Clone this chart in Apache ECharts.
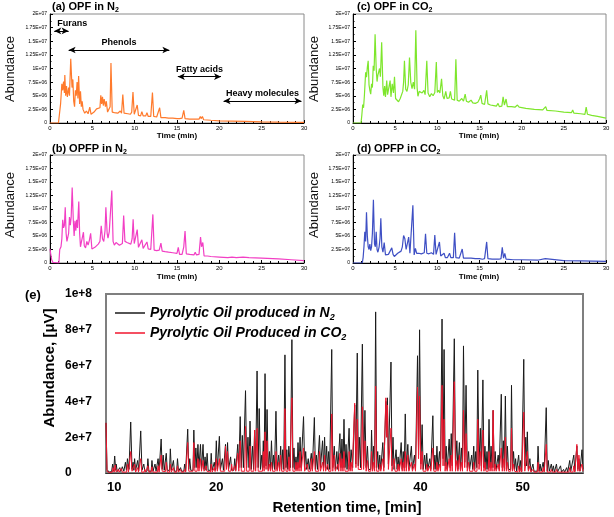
<!DOCTYPE html>
<html><head><meta charset="utf-8">
<script src="https://cdn.jsdelivr.net/npm/echarts@6/dist/echarts.min.js"></script>
<style>html,body{margin:0;padding:0;background:#fff}#c{width:614px;height:517px}</style>
</head><body><div id="c"></div>
<script>
// ---------- DATA (abundance values in units of 1e6) ----------
const topXTicks = [0, 5, 10, 15, 20, 25, 30];
const topYLabels = ['0','2.5E+06','5E+06','7.5E+06','1E+07','1.25E+07','1.5E+07','1.75E+07','2E+07'];
const eYLabels = ['0','2e+7','4e+7','6e+7','8e+7','1e+8'];
const eXTicks = [10, 20, 30, 40, 50];
const panelTitles = [['(a) OPF in N','2'],['(c) OPF in CO','2'],['(b) OPFP in N','2'],['(d) OPFP in CO','2']];
const seriesNamesE = ['Pyrolytic Oil produced in N2','Pyrolytic Oil Produced in CO2'];
const annotations = [['Furans',0.5,2.2,16.9],['Phenols',2.2,14.1,13.4],['Fatty acids',15.1,20.2,8.5],['Heavy molecules',20.5,29.7,4.05]];

const opfN2 = [[0,0],[1.0,0],[1.1,0.3],[1.25,3.5],[1.4,7.2],[1.5,6.0],[1.6,7.6],[1.7,5.5],[1.75,8.8],[1.85,5.0],[1.95,6.8],[2.05,4.8],[2.2,6.5],[2.3,5.0],[2.45,11.8],[2.6,6.5],[2.7,8.0],[2.8,4.0],[2.9,3.0],[3.0,6.0],[3.1,5.0],[3.2,7.5],[3.3,4.5],[3.38,8.6],[3.5,3.5],[3.6,5.8],[3.7,3.0],[3.8,4.0],[3.9,2.5],[4.0,2.8],[4.1,1.8],[4.3,2.2],[4.5,1.7],[4.7,2.9],[4.85,1.6],[5.0,1.3],[5.2,2.0],[5.5,2.6],[5.7,2.3],[5.9,2.8],[6.0,5.1],[6.1,3.5],[6.2,4.8],[6.3,3.2],[6.4,4.4],[6.55,3.0],[6.65,4.0],[6.8,2.0],[6.95,1.8],[7.1,3.0],[7.2,11.0],[7.35,2.0],[7.6,1.9],[8.0,1.8],[8.3,2.2],[8.45,1.8],[8.6,5.2],[8.75,1.8],[9.2,1.7],[9.5,1.6],[9.65,2.0],[9.8,5.7],[9.95,1.6],[10.15,1.5],[10.3,3.3],[10.45,1.4],[10.7,1.3],[10.85,2.1],[11.0,1.3],[11.3,1.3],[11.45,1.9],[11.6,1.2],[11.9,1.2],[12.1,5.6],[12.25,1.2],[12.6,1.1],[12.95,2.8],[13.1,1.0],[13.6,1.0],[14.0,0.9],[14.5,0.9],[15.0,0.8],[15.3,0.8],[15.6,0.9],[15.8,2.3],[15.95,0.8],[16.5,0.7],[17.0,0.7],[17.6,0.7],[17.75,1.2],[17.85,0.8],[18.0,1.2],[18.15,0.6],[19.0,0.5],[20.0,0.4],[21.5,0.35],[23.0,0.3],[25.0,0.2],[27.0,0.15],[30,0.1]];

const opfCO2 = [[0,0],[0.95,0],[1.05,1.5],[1.15,3.4],[1.25,2.8],[1.35,5.0],[1.5,9.3],[1.6,8.4],[1.7,10.2],[1.8,11.4],[1.9,7.0],[2.0,6.0],[2.1,5.3],[2.2,7.2],[2.3,6.5],[2.4,10.5],[2.5,9.6],[2.62,16.3],[2.75,10.0],[2.85,7.6],[2.95,8.8],[3.05,9.0],[3.15,10.0],[3.25,8.5],[3.4,14.8],[3.55,6.5],[3.65,5.0],[3.75,6.8],[3.85,4.8],[4.0,7.8],[4.1,5.2],[4.25,5.0],[4.4,7.8],[4.5,4.8],[4.65,7.2],[4.8,5.5],[4.92,8.5],[5.05,4.5],[5.2,4.3],[5.4,3.9],[5.6,4.5],[5.75,4.2],[5.9,5.8],[6.0,7.5],[6.1,11.4],[6.25,6.2],[6.4,5.8],[6.55,7.0],[6.7,12.0],[6.85,7.5],[7.0,6.3],[7.15,7.5],[7.3,6.2],[7.45,17.0],[7.6,6.5],[7.7,4.9],[7.85,5.8],[8.0,6.1],[8.2,5.5],[8.4,6.0],[8.55,5.2],[8.75,11.4],[8.9,5.5],[9.1,4.8],[9.3,5.4],[9.5,5.0],[9.7,5.6],[9.88,11.2],[10.0,5.6],[10.15,6.0],[10.3,5.5],[10.5,8.1],[10.65,5.0],[10.8,4.4],[11.0,5.8],[11.15,4.5],[11.4,4.6],[11.55,5.8],[11.7,4.4],[11.9,4.6],[12.05,4.2],[12.2,11.7],[12.35,4.2],[12.6,4.0],[12.9,4.5],[13.1,4.0],[13.3,5.3],[13.45,4.0],[13.7,3.8],[14.0,4.2],[14.2,3.7],[14.5,3.6],[14.8,3.8],[15.0,4.4],[15.15,5.1],[15.3,3.6],[15.6,3.4],[15.85,6.0],[16.0,3.5],[16.3,3.3],[16.7,3.2],[17.0,3.1],[17.2,3.6],[17.35,3.0],[17.65,3.1],[17.8,4.8],[17.95,3.3],[18.15,4.4],[18.3,3.0],[18.8,3.0],[19.2,2.9],[19.5,3.3],[19.7,2.9],[20.5,2.7],[21.5,2.5],[22.5,2.4],[22.85,3.0],[23.0,2.3],[24.0,2.2],[25.0,2.0],[25.9,1.9],[26.05,2.4],[26.2,1.8],[27.0,1.7],[27.5,1.6],[27.65,2.9],[27.8,1.6],[28.0,1.8],[28.3,1.4],[29.0,1.2],[30,0.9]];

const opfpN2 = [[0,2.6],[0.1,1.5],[0.2,0.6],[0.35,0.1],[0.5,0],[1.05,0],[1.15,2.5],[1.3,3.0],[1.4,4.5],[1.5,8.0],[1.6,6.5],[1.7,7.0],[1.8,10.3],[1.9,5.5],[2.0,4.0],[2.1,3.7],[2.2,5.5],[2.3,8.5],[2.4,7.0],[2.5,8.5],[2.62,14.0],[2.75,8.0],[2.85,5.0],[2.95,7.8],[3.05,6.0],[3.15,8.0],[3.25,6.5],[3.4,11.4],[3.5,5.5],[3.6,3.0],[3.7,3.8],[3.85,3.5],[3.95,5.7],[4.05,3.2],[4.2,2.8],[4.35,4.0],[4.5,3.3],[4.65,4.2],[4.8,5.5],[4.95,2.6],[5.1,2.5],[5.3,2.9],[5.5,3.0],[5.7,3.5],[5.9,4.0],[6.05,6.9],[6.2,4.5],[6.35,4.0],[6.5,6.0],[6.6,10.3],[6.75,5.5],[6.85,4.6],[7.0,5.8],[7.15,6.0],[7.3,13.4],[7.45,4.0],[7.6,3.3],[7.8,3.8],[8.0,3.5],[8.2,3.3],[8.4,3.6],[8.55,3.6],[8.7,8.8],[8.85,4.0],[9.1,3.8],[9.3,3.6],[9.55,3.5],[9.7,4.5],[9.82,8.1],[9.95,3.6],[10.1,3.3],[10.3,6.2],[10.45,2.9],[10.6,2.8],[10.85,4.3],[11.0,2.7],[11.2,2.6],[11.45,3.9],[11.6,2.6],[11.9,2.5],[12.0,2.6],[12.15,9.0],[12.3,2.4],[12.6,2.3],[12.9,2.4],[13.1,3.7],[13.25,2.2],[13.6,2.1],[14.0,2.0],[14.5,1.9],[15.0,1.8],[15.15,2.9],[15.3,1.6],[15.6,1.6],[15.8,3.0],[15.95,5.9],[16.1,1.7],[16.5,1.6],[17.0,1.5],[17.15,2.0],[17.3,1.5],[17.6,1.6],[17.78,4.8],[17.9,3.0],[18.05,3.8],[18.2,1.3],[18.6,1.3],[19.0,1.2],[20.0,1.1],[21.0,1.0],[21.5,1.1],[22.0,1.0],[22.8,1.1],[23.5,1.0],[25.0,0.9],[27.0,0.75],[28.5,0.6],[30,0.45]];

const opfpCO2 = [[0,0],[1.1,0],[1.2,1.0],[1.3,3.0],[1.4,5.8],[1.5,4.0],[1.6,9.4],[1.7,5.0],[1.8,3.0],[1.9,2.5],[2.0,3.5],[2.1,2.3],[2.2,3.0],[2.3,5.5],[2.42,11.7],[2.55,3.5],[2.65,3.0],[2.75,5.8],[2.85,2.5],[2.95,2.0],[3.1,3.0],[3.2,4.5],[3.3,8.3],[3.42,3.0],[3.55,2.0],[3.7,3.8],[3.85,1.5],[4.0,1.3],[4.2,1.6],[4.4,1.4],[4.6,2.8],[4.75,1.6],[4.9,1.2],[5.1,1.4],[5.3,1.8],[5.5,1.9],[5.7,2.2],[5.85,3.0],[6.0,5.1],[6.15,4.5],[6.3,2.5],[6.45,2.2],[6.6,4.8],[6.75,1.8],[6.95,1.6],[7.1,10.7],[7.25,1.5],[7.4,2.7],[7.55,1.8],[7.8,1.8],[8.1,1.7],[8.3,1.6],[8.45,1.9],[8.6,5.4],[8.75,1.8],[9.0,1.7],[9.3,1.9],[9.55,1.6],[9.7,5.2],[9.85,1.6],[10.05,1.5],[10.25,3.9],[10.4,1.3],[10.6,1.1],[10.8,1.8],[10.95,1.0],[11.2,1.0],[11.45,1.8],[11.6,1.0],[11.9,1.0],[12.05,5.6],[12.2,1.0],[12.6,0.9],[12.95,2.6],[13.1,0.9],[13.5,0.9],[14.0,0.9],[14.5,0.8],[15.0,0.8],[15.2,1.1],[15.35,0.7],[15.6,0.8],[15.85,3.9],[16.0,0.8],[16.5,0.7],[17.0,0.7],[17.15,0.9],[17.3,0.7],[17.55,0.8],[17.7,2.9],[17.85,0.9],[18.0,1.8],[18.15,0.7],[19.0,0.6],[20.0,0.6],[22.0,0.55],[22.8,0.8],[23.0,0.5],[25.0,0.45],[27.0,0.4],[30,0.3]];

const oilN2 = [[9.2,28],[9.3,2],[9.5,0.5],[9.75,0.8],[9.85,5],[9.95,1],[10.05,9.5],[10.15,1.5],[10.2,5],[10.3,0.8],[10.47,0.8],[10.55,3],[10.65,0.8],[10.8,3.5],[10.95,1],[11.1,6],[11.2,1.5],[11.3,8],[11.45,2],[11.62,28.5],[11.75,2],[11.85,6],[11.93,1.5],[12.0,8],[12.1,1.5],[12.3,7],[12.4,1.2],[12.6,23.5],[12.72,1.5],[12.9,5],[13.0,1],[13.22,1],[13.3,8],[13.4,1],[13.62,1],[13.7,7],[13.8,1],[14.0,5],[14.1,1],[14.3,8],[14.4,1.5],[14.6,19],[14.7,2],[14.8,10],[14.9,1.5],[15.1,11],[15.2,1.5],[15.42,1.5],[15.5,13.5],[15.6,1.5],[15.8,7],[15.9,1],[16.12,1],[16.2,8],[16.3,1],[16.5,3],[16.6,1],[16.82,1],[16.9,5],[17.0,1],[17.2,24.5],[17.3,2],[17.4,8],[17.5,1.5],[17.72,1.5],[17.8,24],[17.9,3],[18.0,14],[18.1,3],[18.2,16],[18.3,3],[18.45,16],[18.55,2],[18.7,16],[18.8,2],[18.9,9],[19.0,1.5],[19.1,11],[19.2,1.5],[19.42,1.5],[19.5,11],[19.6,1.5],[19.8,6],[19.9,1.5],[20.0,18],[20.1,2],[20.3,20.5],[20.4,2],[20.6,8],[20.7,1.5],[20.9,16],[21.0,3],[21.1,17],[21.2,2],[21.4,9],[21.5,1.5],[21.72,1.5],[21.8,8],[21.9,1.5],[22.1,16],[22.2,3],[22.34,31.5],[22.45,3],[22.55,21],[22.65,3],[22.86,46],[22.97,3],[23.1,20],[23.2,3],[23.3,29],[23.42,2],[23.55,15],[23.65,2],[23.75,24],[23.85,3],[23.99,57],[24.1,3],[24.2,36],[24.32,2],[24.45,10],[24.52,2],[24.6,18],[24.68,3],[24.77,55.5],[24.87,4],[24.97,35.5],[25.08,2],[25.2,12],[25.3,2],[25.4,18],[25.5,2],[25.6,10],[25.7,2],[25.84,34.5],[25.95,2],[26.1,10],[26.2,2],[26.3,15],[26.4,2],[26.5,13],[26.6,2],[26.72,66],[26.82,3],[26.9,13],[27.0,2],[27.1,15],[27.25,3],[27.4,74.5],[27.5,3],[27.6,14],[27.7,2],[27.8,9],[27.9,2],[28.0,17],[28.1,3],[28.2,20],[28.3,3],[28.54,31.5],[28.65,3],[28.75,12],[28.85,2],[29.0,8],[29.1,2],[29.3,11],[29.4,2],[29.6,31],[29.7,2],[29.8,10],[29.9,2],[30.1,21],[30.2,3],[30.4,18],[30.5,3],[30.6,20],[30.7,3],[30.8,15],[30.9,2],[31.0,12],[31.1,2],[31.3,69],[31.4,3],[31.55,15],[31.65,2],[31.8,12],[31.9,2],[32.1,22],[32.2,3],[32.3,19],[32.4,3],[32.5,30],[32.6,3],[32.7,16],[32.8,2],[33.0,25],[33.1,2],[33.2,13],[33.35,3],[33.55,38],[33.65,5],[33.8,67],[33.9,4],[34.0,20],[34.12,3],[34.3,72],[34.42,4],[34.55,35],[34.67,3],[34.8,15],[34.9,2],[35.12,2],[35.2,24],[35.3,2],[35.4,15],[35.5,3],[35.6,90],[35.7,3],[35.8,12],[35.9,2],[36.0,10],[36.1,2],[36.22,2],[36.3,17],[36.4,3],[36.52,3],[36.6,40],[36.68,20],[36.75,42],[36.85,5],[37.02,5],[37.1,62],[37.2,4],[37.3,20],[37.4,2],[37.6,13],[37.7,2],[37.8,9],[37.9,2],[38.1,17],[38.2,2],[38.3,12],[38.4,3],[38.5,33],[38.6,3],[38.75,16],[38.85,2],[39.02,2],[39.1,15],[39.2,2],[39.4,10],[39.5,2],[39.62,2],[39.7,65.5],[39.8,10],[39.9,80],[40.02,5],[40.15,27],[40.25,2],[40.4,10],[40.5,2],[40.6,11],[40.7,2],[40.9,8],[41.0,2],[41.12,2],[41.2,32],[41.3,2],[41.4,10],[41.5,2],[41.6,15],[41.7,2],[41.85,12],[41.95,3],[42.02,3],[42.1,86],[42.2,8],[42.3,69],[42.4,4],[42.5,15],[42.6,2],[42.8,19],[42.9,3],[43.0,22],[43.1,4],[43.22,4],[43.3,75],[43.42,4],[43.55,18],[43.65,2],[43.8,17],[43.9,2],[44.0,14],[44.1,3],[44.2,71],[44.32,6],[44.45,49],[44.57,3],[44.7,12],[44.8,2],[45.0,10],[45.1,2],[45.2,15],[45.3,2],[45.4,12],[45.5,3],[45.6,57.5],[45.72,5],[45.85,25],[45.95,4],[46.1,52],[46.2,3],[46.3,15],[46.4,2],[46.5,12],[46.6,2],[46.7,30],[46.8,3],[46.9,15],[47.0,3],[47.1,35],[47.2,3],[47.3,12],[47.4,2],[47.6,10],[47.7,2],[47.82,2],[47.9,44],[48.0,3],[48.1,18],[48.2,3],[48.3,43],[48.4,2],[48.5,15],[48.6,2],[48.82,2],[48.9,49],[49.0,2],[49.1,12],[49.2,2],[49.3,8],[49.4,1],[49.6,10],[49.7,1],[49.8,7],[49.9,1],[50.02,1],[50.1,63.5],[50.2,4],[50.3,20],[50.38,4],[50.45,23],[50.55,2],[50.7,8],[50.8,1],[51.0,5],[51.1,1],[51.42,1],[51.5,15],[51.6,1],[51.7,5],[51.8,1],[52.0,6],[52.1,1],[52.22,1],[52.3,36.5],[52.4,1],[52.5,7],[52.6,1],[52.8,5],[52.9,1],[53.0,4],[53.1,0.5],[53.3,5],[53.4,0.5],[53.7,4],[53.8,0.5],[54.0,2],[54.1,0.5],[54.3,3],[54.4,0.5],[54.6,7],[54.7,1],[55.0,10],[55.1,1],[55.3,15],[55.4,2],[55.5,8],[55.6,1],[55.8,13],[55.9,2]];

const oilCO2 = [[9.2,28],[9.3,1],[9.5,0.3],[9.82,0.5],[9.9,3],[10.0,0.5],[10.1,4.5],[10.2,0.5],[10.32,0.5],[10.4,2],[10.48,0.5],[10.62,0.5],[10.7,2.5],[10.8,0.5],[11.22,0.5],[11.3,5],[11.4,0.5],[11.52,0.8],[11.62,12],[11.75,1],[11.92,0.8],[12.0,5],[12.1,0.5],[12.22,0.5],[12.3,3],[12.38,0.5],[12.52,0.5],[12.6,8],[12.7,0.5],[12.92,0.5],[13.0,2],[13.08,0.5],[13.22,0.5],[13.3,4],[13.4,0.5],[13.62,0.5],[13.7,3.5],[13.8,0.5],[14.22,0.5],[14.3,4],[14.4,0.5],[14.52,0.8],[14.6,10],[14.7,1],[15.02,0.8],[15.1,6],[15.2,0.5],[15.42,0.5],[15.5,5],[15.6,0.5],[15.72,0.5],[15.8,3],[15.88,0.5],[16.12,0.5],[16.2,4],[16.3,0.5],[16.42,0.5],[16.5,2],[16.58,0.5],[16.82,0.5],[16.9,2],[17.0,0.5],[17.12,1],[17.2,17],[17.3,1],[17.72,1],[17.8,17],[17.9,1],[18.12,1],[18.2,8],[18.3,1],[18.37,1],[18.45,8],[18.55,1],[18.62,1],[18.7,7],[18.8,1],[18.92,1],[19.0,4],[19.08,1],[19.42,0.5],[19.5,5],[19.6,0.5],[19.72,0.8],[19.8,3],[19.88,0.8],[19.92,0.8],[20.0,8],[20.1,1],[20.22,1],[20.3,8],[20.4,1],[20.82,1],[20.9,15],[21.0,2],[21.1,12],[21.2,1],[21.42,1],[21.5,5],[21.6,1],[21.72,1],[21.8,4],[21.9,1],[22.02,1],[22.1,11],[22.2,1],[22.26,1],[22.34,18],[22.45,1],[22.78,1],[22.86,26],[22.97,1],[23.22,1],[23.3,15],[23.4,1],[23.67,1],[23.75,24],[23.85,1],[23.91,1],[23.99,25],[24.1,1],[24.52,1],[24.6,12],[24.68,1],[24.77,23],[24.87,2],[24.97,18],[25.08,1],[25.2,5],[25.3,1],[25.4,6],[25.5,1],[25.76,1],[25.84,12],[25.95,1],[26.1,6],[26.2,1],[26.3,10],[26.4,1],[26.64,1],[26.72,36],[26.82,1],[27.02,1],[27.1,9],[27.2,1],[27.32,1],[27.4,42],[27.5,1],[27.72,1],[27.8,6],[27.9,1],[28.0,6],[28.1,1],[28.2,12],[28.3,1],[28.46,1],[28.54,14],[28.65,1],[28.82,1],[28.9,5],[29.0,1],[29.22,1],[29.3,8],[29.4,1],[29.52,1],[29.6,12],[29.7,1],[30.02,1],[30.1,12],[30.2,1],[30.32,1],[30.4,6],[30.5,1],[30.6,10],[30.7,1],[30.82,1],[30.9,5],[31.0,1],[31.22,1],[31.3,33],[31.4,1],[31.47,1],[31.55,10],[31.65,1],[31.82,1],[31.9,5],[31.98,1],[32.1,11],[32.2,1],[32.3,8],[32.4,1],[32.5,12],[32.6,1],[32.92,1],[33.0,12],[33.1,1],[33.2,6],[33.3,1],[33.47,1],[33.55,39],[33.67,3],[33.8,30],[33.9,2],[34.22,2],[34.3,37],[34.42,2],[34.55,18],[34.67,1],[34.8,7],[34.9,1],[35.12,1],[35.2,12],[35.3,1],[35.4,6],[35.5,1],[35.6,48.5],[35.7,1],[35.92,1],[36.0,5],[36.1,1],[36.22,1],[36.3,8],[36.4,1],[36.52,1],[36.6,42],[36.68,20],[36.75,38],[36.85,2],[37.02,2],[37.1,25],[37.2,1],[37.32,1],[37.4,8],[37.5,1],[37.72,1],[37.8,5],[37.9,1],[38.02,1],[38.1,8],[38.2,1],[38.3,6],[38.4,1],[38.5,12],[38.6,1],[38.75,10],[38.85,1],[39.02,1],[39.1,6],[39.2,1],[39.32,1],[39.4,5],[39.5,1],[39.62,1],[39.7,48],[39.8,8],[39.9,43],[40.02,2],[40.15,12],[40.25,1],[40.52,1],[40.6,5],[40.7,1],[40.82,1],[40.9,4],[41.0,1],[41.12,1],[41.2,14],[41.3,1],[41.52,1],[41.6,6],[41.7,1],[41.85,5],[41.95,1],[42.02,1],[42.1,49],[42.2,4],[42.3,30],[42.4,1],[42.5,6],[42.6,1],[42.72,1],[42.8,8],[42.9,1],[43.0,10],[43.1,1],[43.22,1],[43.3,51],[43.42,1],[43.55,7],[43.65,1],[43.8,10],[43.9,1],[44.0,6],[44.1,1],[44.2,35],[44.32,3],[44.45,22],[44.57,1],[44.7,6],[44.8,1],[45.12,1],[45.2,6],[45.3,1],[45.52,1],[45.6,30],[45.72,2],[45.85,12],[45.95,1],[46.02,1],[46.1,24],[46.2,1],[46.3,6],[46.4,1],[46.62,1],[46.7,12],[46.8,1],[46.9,6],[47.0,1],[47.1,35],[47.2,1],[47.3,5],[47.4,1],[47.6,5],[47.7,1],[47.82,1],[47.9,14],[48.0,1],[48.1,8],[48.2,1],[48.3,20],[48.4,1],[48.5,6],[48.6,1],[48.82,1],[48.9,25],[49.0,1],[49.1,5],[49.2,1],[49.52,0.5],[49.6,4],[49.7,0.5],[49.8,3],[49.9,0.5],[50.02,1],[50.1,34],[50.2,1],[50.37,1],[50.45,12],[50.55,1],[50.62,1],[50.7,4],[50.8,0.5],[51.0,2],[51.1,0.5],[51.42,0.5],[51.5,6],[51.6,0.5],[51.92,0.5],[52.0,3],[52.1,0.5],[52.22,0.5],[52.3,16],[52.4,0.5],[52.72,0.5],[52.8,2],[52.9,0.5],[53.22,0.5],[53.3,2],[53.4,0.5],[54.52,0.5],[54.6,3],[54.7,0.5],[54.92,0.5],[55.0,4],[55.1,0.5],[55.22,1],[55.3,16],[55.4,1],[55.5,10],[55.6,1],[55.8,5],[55.9,1]];

// ---------- CHART ----------
const FONT = '"Liberation Sans", Arial, Helvetica, sans-serif';
const chart = echarts.init(document.getElementById('c'));

const topGrids = [
  {left: 50, top: 14, width: 254, height: 109},
  {left: 353, top: 14, width: 253, height: 109},
  {left: 50, top: 155, width: 254, height: 108},
  {left: 353, top: 155, width: 253, height: 108}
];
const topData = [opfN2, opfCO2, opfpN2, opfpCO2];
const topColors = ['#ff7a2c', '#7ee62c', '#f23fc4', '#3e4fc4'];

const grids = topGrids.map(g => Object.assign({show: true, borderColor: '#8a8a8a', borderWidth: 1, backgroundColor: 'transparent'}, g));
grids.push({left: 106, top: 294, width: 477, height: 179, show: true, borderColor: '#7f7f7f', borderWidth: 2, backgroundColor: 'transparent'});

const xAxes = topGrids.map((g, i) => ({
  type: 'value', gridIndex: i, min: topXTicks[0], max: topXTicks[topXTicks.length - 1], interval: 5,
  axisLine: {show: true, onZero: false, lineStyle: {color: '#000', width: 1}},
  axisTick: {show: true, inside: true, length: 3, lineStyle: {color: '#000'}},
  minorTick: {show: true, splitNumber: 5, length: 2, lineStyle: {color: '#000'}},
  splitLine: {show: false},
  axisLabel: {fontSize: 6, margin: 2, color: '#000', fontFamily: FONT}
}));
xAxes.push({
  type: 'value', gridIndex: 4, min: 9.2, max: 55.9,
  axisLine: {show: true, onZero: false, lineStyle: {color: '#333', width: 1}},
  axisTick: {show: false}, splitLine: {show: false},
  axisLabel: {customValues: eXTicks, fontSize: 13, fontWeight: 'bold', margin: 8, color: '#000', fontFamily: FONT}
});

const yAxes = topGrids.map((g, i) => ({
  type: 'value', gridIndex: i, min: 0, max: 20, interval: 2.5,
  axisLine: {show: true, onZero: false, lineStyle: {color: '#000', width: 1}},
  axisTick: {show: true, inside: true, length: 3, lineStyle: {color: '#000'}},
  minorTick: {show: true, splitNumber: 2, length: 1.5, lineStyle: {color: '#000'}},
  splitLine: {show: false},
  axisLabel: {fontSize: 5, margin: 3, color: '#000', fontFamily: FONT,
    formatter: v => topYLabels[Math.round(v / 2.5)]}
}));
yAxes.push({
  type: 'value', gridIndex: 4, min: 0, max: 100, interval: 20,
  axisLine: {show: true, lineStyle: {color: '#7f7f7f', width: 2}},
  axisTick: {show: false}, splitLine: {show: false},
  axisLabel: {fontSize: 12, fontWeight: 'bold', align: 'left', margin: 41, color: '#000', fontFamily: FONT,
    formatter: v => eYLabels[Math.round(v / 20)]}
});

const series = topData.map((d, i) => ({
  type: 'line', xAxisIndex: i, yAxisIndex: i, data: d, showSymbol: false, symbol: 'none',
  lineStyle: {color: topColors[i], width: 1.2}, itemStyle: {color: topColors[i]}, silent: true, z: 3
}));
series[0].markLine = {
  silent: true, symbol: ['arrow', 'arrow'], symbolSize: [5, 7],
  lineStyle: {color: '#000', width: 1, type: 'solid'},
  label: {show: true, color: '#000', fontSize: 9, fontWeight: 'bold', fontFamily: FONT, distance: 3},
  data: annotations.map((a, i) => [
    {coord: [a[1], a[3]], name: a[0], label: {position: i === 0 ? 'insideStartTop' : 'insideMiddleTop', formatter: a[0]}},
    {coord: [a[2], a[3]]}
  ])
};
series.push({
  name: seriesNamesE[0], type: 'line', xAxisIndex: 4, yAxisIndex: 4, data: oilN2, showSymbol: false, symbol: 'none',
  lineStyle: {color: '#1a1a1a', width: 1}, itemStyle: {color: '#1a1a1a'}, silent: true, z: 3
});
series.push({
  name: seriesNamesE[1], type: 'line', xAxisIndex: 4, yAxisIndex: 4, data: oilCO2, showSymbol: false, symbol: 'none',
  lineStyle: {color: '#f0162e', width: 1}, itemStyle: {color: '#f0162e'}, silent: true, z: 4
});

const titleRich = {
  t: {fontSize: 11, fontWeight: 'bold', fontFamily: FONT, lineHeight: 14, fill: '#000'},
  s: {fontSize: 7, fontWeight: 'bold', fontFamily: FONT, lineHeight: 7, verticalAlign: 'bottom', fill: '#000'}
};
const titlePos = [[52, 6.5], [357, 6.5], [52, 149], [357, 149]];
const graphics = [];
panelTitles.forEach((t, i) => {
  graphics.push({type: 'text', x: titlePos[i][0], y: titlePos[i][1],
    style: {text: '{t|' + t[0] + '}{s|' + t[1] + '}', rich: titleRich, verticalAlign: 'middle', fill: '#000'}});
});
const abundPos = [[10, 69], [314, 69], [10, 205], [314, 205]];
abundPos.forEach(p => graphics.push({type: 'text', x: p[0], y: p[1], rotation: Math.PI / 2,
  style: {text: 'Abundance', fontSize: 13, fontFamily: FONT, fill: '#111', align: 'center', verticalAlign: 'middle'}}));
const timePos = [[177, 136], [479, 136], [177, 277], [479, 277]];
timePos.forEach(p => graphics.push({type: 'text', x: p[0], y: p[1],
  style: {text: 'Time (min)', fontSize: 8, fontWeight: 'bold', fontFamily: FONT, fill: '#000', align: 'center', verticalAlign: 'middle'}}));
graphics.push({type: 'text', x: 25, y: 295, style: {text: '(e)', fontSize: 13, fontWeight: 'bold', fontFamily: FONT, fill: '#000', verticalAlign: 'middle'}});
graphics.push({type: 'text', x: 50, y: 368, rotation: Math.PI / 2,
  style: {text: 'Abundance, [\u03bcV]', fontSize: 15, fontWeight: 'bold', fontFamily: FONT, fill: '#000', align: 'center', verticalAlign: 'middle'}});
graphics.push({type: 'text', x: 347, y: 508,
  style: {text: 'Retention time, [min]', fontSize: 15, fontWeight: 'bold', fontFamily: FONT, fill: '#000', align: 'center', verticalAlign: 'middle'}});

const legendRich = {
  t: {fontSize: 14, fontWeight: 'bold', fontStyle: 'italic', fontFamily: FONT, lineHeight: 18, color: '#000'},
  s: {fontSize: 9, fontWeight: 'bold', fontStyle: 'italic', fontFamily: FONT, lineHeight: 9, verticalAlign: 'bottom', color: '#000'}
};

chart.setOption({
  animation: false,
  backgroundColor: '#fff',
  textStyle: {fontFamily: FONT},
  grid: grids,
  xAxis: xAxes,
  yAxis: yAxes,
  series: series,
  legend: {
    data: seriesNamesE, orient: 'vertical', left: 115, top: 306, itemGap: 4, padding: 0,
    itemWidth: 30, itemHeight: 1.5, icon: 'rect', selectedMode: false,
    formatter: name => name === seriesNamesE[0]
      ? '{t|Pyrolytic Oil produced in N}{s|2}'
      : '{t|Pyrolytic Oil Produced in CO}{s|2}',
    textStyle: {rich: legendRich, padding: [0, 0, 0, 0]}
  },
  graphic: graphics
});
</script></body></html>
